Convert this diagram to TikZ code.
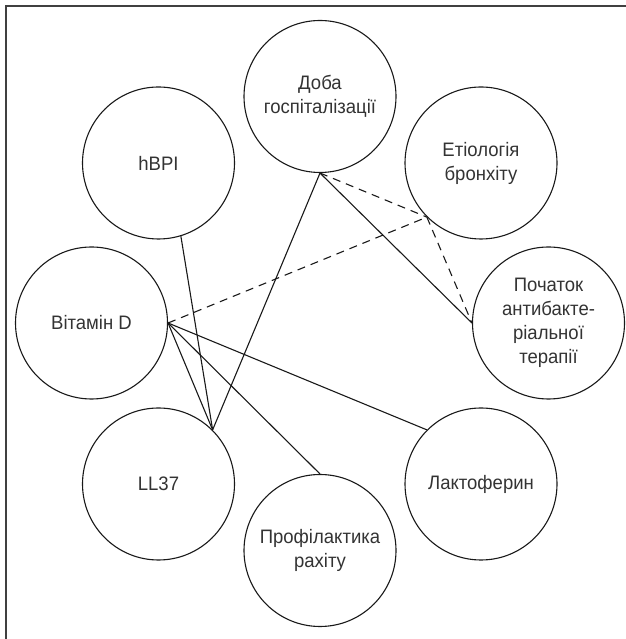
\documentclass[tikz,border=0pt]{standalone}
\usepackage{fontspec}
\setmainfont[FakeStretch=0.95]{Liberation Sans}
\begin{document}
\begin{tikzpicture}[x=1pt,y=1pt,
  bub/.style={circle,draw=black!90,line width=1.1pt,minimum size=152pt,inner sep=0pt,
    align=center,text=black!80,font=\fontsize{19.5}{24}\selectfont},
  link/.style={draw=black!90,line width=1.1pt},
  dlink/.style={link,dash pattern=on 8pt off 6pt}]
\useasboundingbox (0,0) rectangle (625,639);
\draw[black!75,line width=1.8pt] (6,-2) -- (6,633) -- (627,633);
\node[bub] (doba) at (320,542.5) {Доба\\госпіталізації};
\node[bub] (hbpi) at (158.5,476) {hBPI};
\node[bub] (et) at (481,476) {Етіологія\\бронхіту};
\node[bub] (vit) at (91.5,316) {Вітамін D};
\node[bub] (poch) at (548.5,316) {Початок\\антибакте-\\ріальної\\терапії};
\node[bub] (ll) at (158.5,155) {LL37};
\node[bub] (lakt) at (481,155) {Лактоферин};
\node[bub] (prof) at (320,88.5) {Профілактика\\рахіту};
\draw[link] (doba.south) -- (ll.45);
\draw[link] (doba.south) -- (poch.west);
\draw[dlink] (doba.south) -- (et.225);
\draw[dlink] (vit.east) -- (et.225);
\draw[dlink] (et.225) -- (poch.west);
\draw[link] (hbpi.-73) -- (ll.45);
\draw[link] (vit.east) -- (ll.45);
\draw[link] (vit.east) -- (prof.north);
\draw[link] (vit.east) -- (lakt.135);
\end{tikzpicture}
\end{document}
